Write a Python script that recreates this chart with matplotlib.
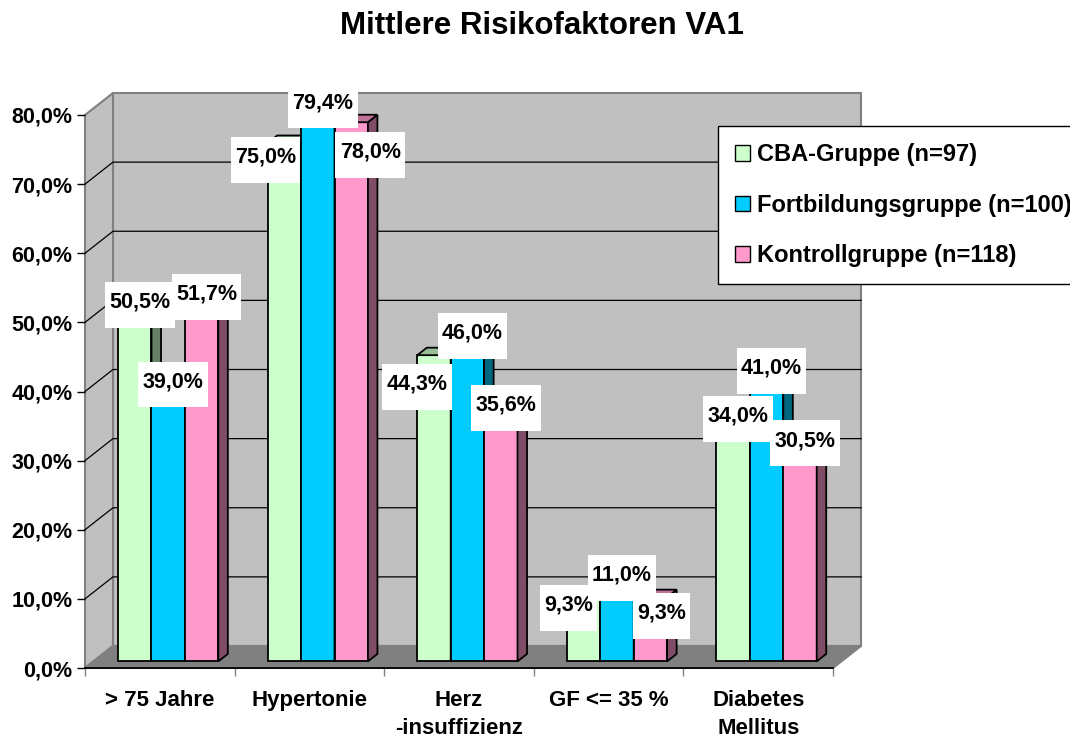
import matplotlib.pyplot as plt
from matplotlib.patches import Polygon, Patch
from matplotlib.path import Path
from matplotlib.transforms import Affine2D

plt.rcParams['font.family'] = ['Liberation Sans', 'DejaVu Sans']
plt.rcParams['font.weight'] = 'bold'

# Daten (Prozent)
kategorien = ['> 75 Jahre', 'Hypertonie', 'Herz\n-insuffizienz', 'GF <= 35 %', 'Diabetes\nMellitus']
gruppen = ['CBA-Gruppe (n=97)', 'Fortbildungsgruppe (n=100)', 'Kontrollgruppe (n=118)']
cba = [50.5, 75.0, 44.3, 9.3, 34.0]
fortbildung = [39.0, 79.4, 46.0, 11.0, 41.0]
kontrolle = [51.7, 78.0, 35.6, 9.3, 30.5]
y_ticks = [0, 10, 20, 30, 40, 50, 60, 70, 80]

werte = [cba, fortbildung, kontrolle]
farbe_vorne = ['#CCFFCC', '#00CCFF', '#FF99CC']
farbe_seite = ['#668066', '#006680', '#804D66']
farbe_oben = ['#99BF99', '#0099BF', '#BF7399']

# manuell verschobene Beschriftungen (Pixel), wie im Original
verschiebung = {(0, 1): (-24, -24), (0, 2): (-22, -39), (0, 3): (-20, -18),
                (2, 1): (14, -40), (2, 3): (6, -26)}

fig = plt.figure(figsize=(10.7, 7.38), dpi=100)
ax = fig.add_axes([85 / 1070, 70 / 738, 748 / 1070, 553 / 738])
n = len(kategorien)
ax.set_xlim(0, n)
ax.set_ylim(0, y_ticks[-1])

pos = ax.get_position()
sx = n / (pos.width * fig.get_figwidth() * fig.dpi)
sy = y_ticks[-1] / (pos.height * fig.get_figheight() * fig.dpi)


def px(dx, dy):
    return dx * sx, dy * sy


# Tiefe des 3D-Rahmens
ddx, ddy = px(28, 22)
top = y_ticks[-1]

wand = dict(fc='#C0C0C0', ec='#808080', lw=1.5, clip_on=False, zorder=0)
ax.add_patch(Polygon([(ddx, ddy), (n + ddx, ddy), (n + ddx, top + ddy), (ddx, top + ddy)], **wand))
ax.add_patch(Polygon([(0, 0), (ddx, ddy), (ddx, top + ddy), (0, top)], **wand))
ax.add_patch(Polygon([(0, 0), (n, 0), (n + ddx, ddy), (ddx, ddy)],
                     fc='#808080', ec='#808080', lw=1.5, clip_on=False, zorder=0))
for t in y_ticks[1:-1]:
    ax.plot([0, ddx, n + ddx], [t, t + ddy, t + ddy], color='black', lw=0.9,
            clip_on=False, zorder=1)


def label_box(x0, y0, width, height, mutation_size):
    l = 0.2 * mutation_size
    o = 0.45 * mutation_size
    u = 0.7 * mutation_size
    return Path.unit_rectangle().transformed(
        Affine2D().scale(width + 2 * l, height + o + u).translate(x0 - l, y0 - u))


# Balken
w = 0.2233
f, tiefe = 0.3, 0.34
fx, fy = f * ddx, f * ddy
tx, ty = tiefe * ddx, tiefe * ddy
z = 2
for i in range(n):
    for j in range(3):
        v = werte[j][i]
        left = i + 0.5 - 1.5 * w + j * w + fx
        b = fy
        ax.bar(left, v, width=w, bottom=b, align='edge', color=farbe_vorne[j],
               edgecolor='black', lw=1.3, zorder=z)
        ax.add_patch(Polygon([(left + w, b), (left + w + tx, b + ty), (left + w + tx, b + v + ty),
                              (left + w, b + v)], fc=farbe_seite[j], ec='black', lw=1.3, zorder=z))
        ax.add_patch(Polygon([(left, b + v), (left + w, b + v), (left + w + tx, b + v + ty),
                              (left + tx, b + v + ty)], fc=farbe_oben[j], ec='black', lw=1.3,
                             zorder=z, clip_on=False))
        z += 1

for i in range(n):
    for j in range(3):
        v = werte[j][i]
        left = i + 0.5 - 1.5 * w + j * w + fx
        nx, ny = verschiebung.get((j, i), (0, 0))
        ax.annotate(f'{v:.1f}%'.replace('.', ','), xy=(left + w / 2, fy + v),
                    xytext=(5 + nx, 10 + ny), textcoords='offset pixels',
                    ha='center', va='center', fontsize=15.5, fontweight='bold',
                    bbox=dict(boxstyle=label_box, fc='white', ec='none'),
                    zorder=100, annotation_clip=False)

# Achsen
for s in ['top', 'right', 'left']:
    ax.spines[s].set_visible(False)
ax.spines['bottom'].set_color('black')
ax.spines['bottom'].set_linewidth(1.3)
ax.spines['bottom'].set_zorder(50)

ax.set_yticks(y_ticks)
ax.set_yticklabels([f'{t:.1f}%'.replace('.', ',') for t in y_ticks], fontsize=15.5, fontweight='bold')
ax.tick_params(axis='y', length=6, width=1, pad=3, color='black')
ax.set_xticks(range(n + 1))
ax.set_xticklabels([])
ax.tick_params(axis='x', which='major', length=6, width=1, color='#808080')
ax.set_xticks([i + 0.5 for i in range(n)], minor=True)
ax.set_xticklabels(kategorien, minor=True, fontsize=16, fontweight='bold', linespacing=1.45)
ax.tick_params(axis='x', which='minor', length=0, pad=15.5)

fig.text(542 / 1070, 1 - 26 / 738, 'Mittlere Risikofaktoren VA1', ha='center', va='center',
         fontsize=22.5, fontweight='bold')

handles = [Patch(fc=c, ec='black', lw=1) for c in farbe_vorne]
leg = fig.legend(handles, gruppen, loc='upper left', bbox_to_anchor=(718 / 1070, 1 - 126 / 738),
                 borderaxespad=0, frameon=True, fancybox=False, edgecolor='black', framealpha=1,
                 borderpad=0.72, handlelength=0.64, handleheight=0.64, handletextpad=0.3,
                 labelspacing=1.17, prop={'size': 17, 'weight': 'bold'})
leg.get_frame().set_linewidth(1.0)

fig.savefig('out.png', dpi=100)
